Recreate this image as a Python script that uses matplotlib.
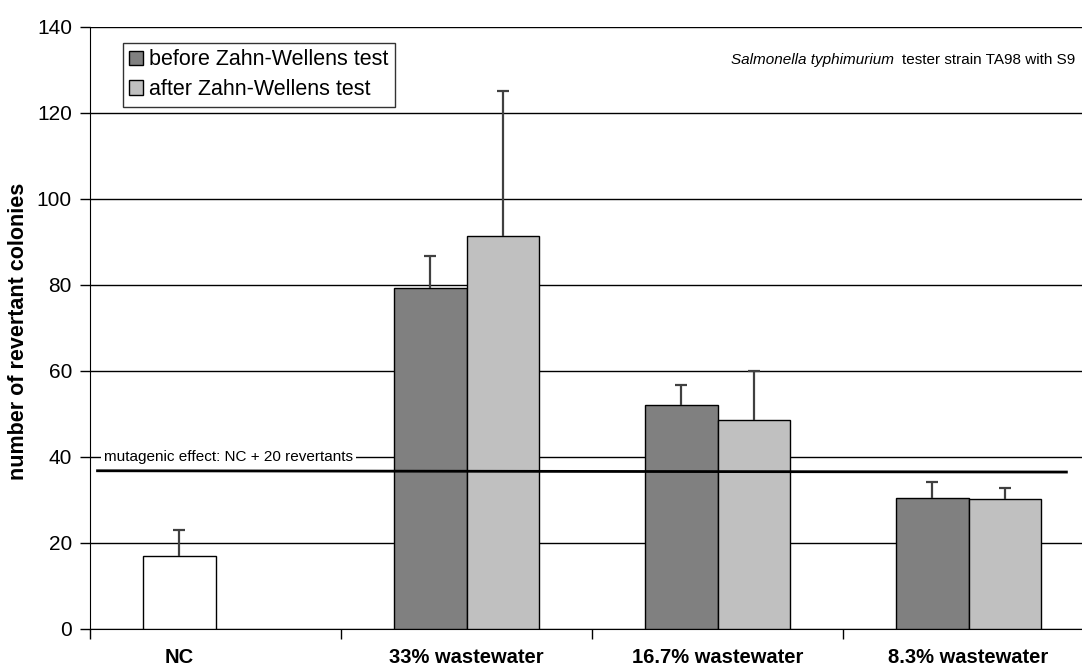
import matplotlib.pyplot as plt
import numpy as np

groups = ['NC', '33% wastewater', '16.7% wastewater', '8.3% wastewater']
nc_mean = 17.0
nc_err = 6.0
before = [79.3, 52.1, 30.5]
before_err = [7.4, 4.6, 3.7]
after = [91.4, 48.6, 30.2]
after_err = [33.7, 11.4, 2.6]
threshold = [36.8, 36.5]

plt.rcParams['font.family'] = ['Liberation Sans', 'DejaVu Sans']

fig = plt.figure(figsize=(10.82, 6.67), dpi=100)
ax = fig.add_axes([90/1082, 1 - 629/667, 1004/1082, 602/667])

w = 0.287
x = np.arange(1, 4)


def upper_err(xs, ys, es):
    # one-sided error bars: stem plus a cap on top only
    xs = np.atleast_1d(xs)
    ys = np.atleast_1d(ys)
    es = np.atleast_1d(es)
    ax.vlines(xs, ys, ys + es, color='#404040', lw=1.6, zorder=4)
    ax.plot(xs, ys + es, ls='none', marker='_', ms=8, mew=1.6,
            color='#404040', zorder=4)


ax.bar(-w/2, nc_mean, w, color='white', edgecolor='black', lw=1, zorder=3)
upper_err(-w/2, nc_mean, nc_err)
ax.bar(x - w/2, before, w, color='#808080', edgecolor='black', lw=1, zorder=3,
       label='before Zahn-Wellens test')
upper_err(x - w/2, before, before_err)
ax.bar(x + w/2, after, w, color='#c0c0c0', edgecolor='black', lw=1, zorder=3,
       label='after Zahn-Wellens test')
upper_err(x + w/2, after, after_err)

# threshold line NC + 20
ax.plot([-0.47, 3.39], threshold, color='black', lw=2, zorder=5)
ax.text(-0.445, 40.1, 'mutagenic effect: NC + 20 revertants', fontsize=11,
        va='center', ha='left', zorder=5,
        bbox=dict(facecolor='white', edgecolor='none', pad=2))

ax.set_xlim(-0.5, 3.5)
ax.set_ylim(0, 140)
ax.set_yticks(range(0, 141, 20))
ax.yaxis.grid(True, color='black', lw=1)
ax.set_axisbelow(True)
ax.set_xticks([-0.5, 0.5, 1.5, 2.5])
ax.set_xticklabels([])
ax.tick_params(axis='x', length=7, width=1, direction='out')
ax.tick_params(axis='y', length=7, width=1, direction='out', labelsize=15, pad=6)
for s in ['top', 'right']:
    ax.spines[s].set_visible(False)

label_x = [-w/2, 1, 2, 3]
for lx, g in zip(label_x, groups):
    ax.text(lx, -6.7, g, ha='center', va='center', fontsize=14.5, fontweight='bold')

fig.text(19/1082, 1 - 331/667, 'number of revertant colonies', fontsize=15.5,
         fontweight='bold', rotation=90, ha='center', va='center')

fig.text(1075/1082, 1 - 60/667, 'tester strain TA98 with S9', fontsize=11,
         ha='right', va='center')
fig.text(894/1082, 1 - 60/667, 'Salmonella typhimurium', fontsize=11,
         ha='right', va='center', style='italic')

leg = ax.legend(loc='upper left', bbox_to_anchor=(33/1004, 1 - 16/602),
                fontsize=15.5, frameon=True, fancybox=False, edgecolor='black',
                handlelength=0.65, handleheight=0.65, handletextpad=0.25,
                borderpad=0.3, labelspacing=0.4, borderaxespad=0)
leg.get_frame().set_linewidth(1)

fig.savefig('out.png', dpi=100)
